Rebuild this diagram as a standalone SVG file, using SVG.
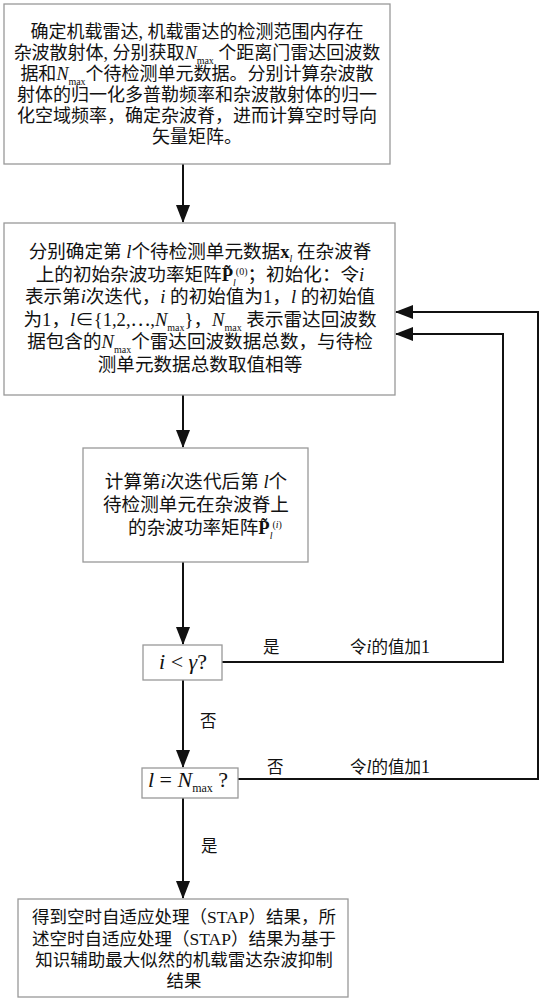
<svg xmlns="http://www.w3.org/2000/svg" width="542" height="1000" viewBox="0 0 542 1000">
<style>
.box{fill:#fff;stroke:#999;stroke-width:1.3}
.t{font-family:"Liberation Serif","Noto Sans CJK SC",serif;font-size:18px;fill:#111;text-anchor:middle}
.s{font-size:17.5px}
.g{font-size:18.6px}
.it{font-style:italic}
.b{font-weight:bold}
.sub{font-size:10px}
.m{font-family:"Liberation Serif",serif;font-size:22px;fill:#111;text-anchor:middle}
.lbl{font-family:"Noto Sans CJK SC",sans-serif;font-size:16.5px;fill:#111}
.c{fill:none;stroke:#111;stroke-width:2}
</style>
<defs>
<marker id="ah" viewBox="0 0 18 14" refX="17" refY="7" markerWidth="18" markerHeight="14" markerUnits="userSpaceOnUse" orient="auto">
<path d="M0,0 L18,7 L0,14 Z" fill="#111"/>
</marker>
</defs>
<g id="connectors">
<line class="c" x1="183" y1="164" x2="183" y2="222" marker-end="url(#ah)"/>
<line class="c" x1="183" y1="395" x2="183" y2="447" marker-end="url(#ah)"/>
<line class="c" x1="183" y1="562" x2="183" y2="644" marker-end="url(#ah)"/>
<line class="c" x1="183" y1="680" x2="183" y2="767" marker-end="url(#ah)"/>
<line class="c" x1="183" y1="798" x2="183" y2="898" marker-end="url(#ah)"/>
<polyline class="c" points="222,662 503,662 503,334 396,334" marker-end="url(#ah)"/>
<polyline class="c" points="238,779 538,779 538,312 396,312" marker-end="url(#ah)"/>
<text class="lbl" x="263" y="653">是</text>
<text class="lbl" x="350" y="653">令<tspan font-family="Liberation Serif" font-style="italic" font-size="18">i</tspan>的值加<tspan font-family="Liberation Serif" font-size="18">1</tspan></text>
<text class="lbl" x="200" y="727">否</text>
<text class="lbl" x="267" y="773">否</text>
<text class="lbl" x="350" y="773">令<tspan font-family="Liberation Serif" font-style="italic" font-size="18">l</tspan>的值加<tspan font-family="Liberation Serif" font-size="18">1</tspan></text>
<text class="lbl" x="201" y="852">是</text>
</g>
<g id="n1">
<rect class="box" x="4" y="4" width="386" height="160"/>
<text class="t" x="197" y="38">确定机载雷达, 机载雷达的检测范围内存在</text>
<text class="t" x="197" y="59">杂波散射体, 分别获取<tspan class="it">N</tspan><tspan class="sub" dy="5">max</tspan><tspan dy="-5"> 个距离门雷达回波数</tspan></text>
<text class="t" x="197" y="80">据和<tspan class="it">N</tspan><tspan class="sub" dy="5">max</tspan><tspan dy="-5">个待检测单元数据。分别计算杂波散</tspan></text>
<text class="t" x="197" y="101">射体的归一化多普勒频率和杂波散射体的归一</text>
<text class="t" x="197" y="122">化空域频率，确定杂波脊，进而计算空时导向</text>
<text class="t" x="197" y="143">矢量矩阵。</text>
</g>
<g id="n2">
<rect class="box" x="4" y="223" width="391" height="172"/>
<text class="t g" x="200" y="258">分别确定第 <tspan class="it">l</tspan>个待检测单元数据<tspan class="b">x</tspan><tspan class="sub it" dy="4">l</tspan><tspan dy="-4"> 在杂波脊</tspan></text>
<text class="t g" x="200" y="281">上的初始杂波功率矩阵<tspan class="b">P&#x303;</tspan><tspan class="sub it" dy="5">l</tspan><tspan class="sub" dy="-11">(0)</tspan><tspan dy="6">；初始化：令</tspan><tspan class="it">i</tspan></text>
<text class="t g" x="200" y="303">表示第<tspan class="it">i</tspan>次迭代，<tspan class="it">i</tspan> 的初始值为1，<tspan class="it">l</tspan> 的初始值</text>
<text class="t g" x="200" y="326">为1，<tspan class="it">l</tspan>∈{1,2,⋯,<tspan class="it">N</tspan><tspan class="sub" dy="5">max</tspan><tspan dy="-5">}，</tspan><tspan class="it">N</tspan><tspan class="sub" dy="5">max</tspan><tspan dy="-5"> 表示雷达回波数</tspan></text>
<text class="t g" x="200" y="348">据包含的<tspan class="it">N</tspan><tspan class="sub" dy="5">max</tspan><tspan dy="-5">个雷达回波数据总数，与待检</tspan></text>
<text class="t g" x="200" y="371">测单元数据总数取值相等</text>
</g>
<g id="n3">
<rect class="box" x="83" y="448" width="225" height="114"/>
<text class="t g" x="196" y="488">计算第<tspan class="it">i</tspan>次迭代后第<tspan class="it"> l</tspan>个</text>
<text class="t g" x="196" y="511">待检测单元在杂波脊上</text>
<text class="t g" x="205" y="534">的杂波功率矩阵<tspan class="b">P&#x303;</tspan><tspan class="sub it" dy="5">l</tspan><tspan class="sub" dy="-11">(<tspan class="it">i</tspan>)</tspan></text>
</g>
<g id="n4">
<rect class="box" x="143" y="645" width="79" height="35"/>
<text class="m" x="183" y="669"><tspan class="it">i</tspan> &lt; <tspan class="it">γ</tspan>?</text>
</g>
<g id="n5">
<rect class="box" x="142" y="768" width="96" height="30"/>
<text class="m" x="188" y="787"><tspan class="it">l</tspan> = <tspan class="it">N</tspan><tspan font-size="12" dy="5">max</tspan><tspan dy="-5"> ?</tspan></text>
</g>
<g id="n6">
<rect class="box" x="18" y="899" width="330" height="98"/>
<text class="t s" x="184" y="923">得到空时自适应处理（STAP）结果，所</text>
<text class="t s" x="184" y="945">述空时自适应处理（STAP）结果为基于</text>
<text class="t s" x="184" y="966">知识辅助最大似然的机载雷达杂波抑制</text>
<text class="t s" x="184" y="987">结果</text>
</g>
</svg>
